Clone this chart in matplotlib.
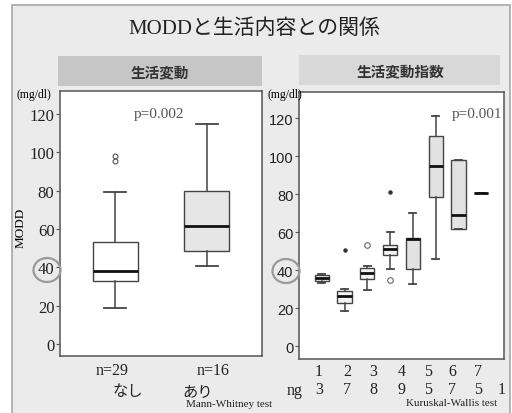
import matplotlib
matplotlib.use("Agg")
import matplotlib.pyplot as plt
from matplotlib.patches import Rectangle, Ellipse
from matplotlib.transforms import IdentityTransform

W, H = 512, 414

# left panel: 生活変動 なし / あり
left_names = ["なし", "あり"]
left_n = [29, 16]
left_whislo = [18.5, 40.5]
left_q1 = [33, 48.5]
left_med = [38, 61.5]
left_q3 = [53, 80]
left_whishi = [79.5, 115]
left_fliers = [[95.5, 98], []]

# right panel: 生活変動指数
right_idx = ["1", "2", "3", "4", "5", "6", "7"]
right_n = [3, 7, 8, 9, 5, 7, 5, 1]
right_whislo = [33, 18.3, 29.5, 40.5, 32.8, 45.8, 61.6, 80.5]
right_q1 = [34.4, 22.8, 35.3, 47.9, 40.5, 78.6, 61.6, 80.5]
right_med = [35.8, 26.3, 38.2, 51, 56.5, 94.6, 68.8, 80.5]
right_q3 = [37.2, 29, 41, 53.2, 56.8, 110.7, 98, 80.5]
right_whishi = [38, 30.2, 42.3, 60.2, 69.8, 121.2, 98, 80.5]
right_circ = [[], [], [53.2], [34.7], [], [], [], []]
right_star = [[], [50.5], [], [80.9], [], [], [], []]

SERIF = ["Liberation Serif", "Noto Sans CJK JP"]
CJK = ["Noto Sans CJK JP", "DejaVu Sans"]


def fx(x):
    return x / W


def fy(y):
    return 1 - y / H


fig = plt.figure(figsize=(W / 100, H / 100), dpi=100)
fig.patch.set_facecolor("white")
fig.patches.append(Rectangle((fx(12), fy(416)), fx(498), 410 / H, transform=fig.transFigure,
                             facecolor="#ebebeb", edgecolor="#a8a8a8", lw=1.2, zorder=-10))
fig.patches.append(Rectangle((fx(58), fy(87)), fx(204), 30 / H, transform=fig.transFigure,
                             facecolor="#c6c6c6", edgecolor="none", zorder=-5))
fig.patches.append(Rectangle((fx(299), fy(86)), fx(201), 30 / H, transform=fig.transFigure,
                             facecolor="#d8d8d8", edgecolor="none", zorder=-5))

fig.text(fx(254), fy(29), "MODDと生活内容との関係", family=SERIF, fontsize=15,
         ha="center", va="center", color="#222222")
fig.text(fx(160), fy(72), "生活変動", family=CJK, fontsize=10.5, weight="bold",
         ha="center", va="center", color="#333333")
fig.text(fx(400), fy(71), "生活変動指数", family=CJK, fontsize=10.5, weight="bold",
         ha="center", va="center", color="#333333")


def make_stats(lo, q1, med, q3, hi, fl):
    return [dict(whislo=a, q1=b, med=c, q3=d, whishi=e, fliers=f)
            for a, b, c, d, e, f in zip(lo, q1, med, q3, hi, fl)]


def style_axes(ax, family, size):
    for s in ax.spines.values():
        s.set_color("#555555")
        s.set_linewidth(1.1)
    ax.set_xticks([])
    ax.set_yticks(range(0, 121, 20))
    ax.tick_params(axis="y", length=3, color="#555555", pad=1, labelsize=size, labelcolor="#222222")
    for t in ax.get_yticklabels():
        t.set_family(family)


# left axes
ax1 = fig.add_axes([fx(60), fy(357), fx(202), 265 / H])
stats1 = make_stats(left_whislo, left_q1, left_med, left_q3, left_whishi, left_fliers)
b1 = ax1.bxp(stats1, positions=[1, 2], widths=0.49, patch_artist=True,
             boxprops=dict(edgecolor="#444444", lw=1),
             whiskerprops=dict(color="#444444", lw=1.1),
             capprops=dict(color="#444444", lw=1.3),
             medianprops=dict(color="#111111", lw=2),
             flierprops=dict(marker="o", ms=3.5, mfc="none", mec="#555555", mew=0.8))
for patch, c in zip(b1["boxes"], ["white", "#e6e6e6"]):
    patch.set_facecolor(c)
ax1.set_xlim(0.4, 2.6)
ax1.set_ylim(-6.3, 132)
style_axes(ax1, "Liberation Serif", 12)
ax1.text(1.48, 120, "p=0.002", family="Liberation Serif", fontsize=11, ha="center",
         va="center", color="#555555")

# right axes
ax2 = fig.add_axes([fx(299), fy(360), fx(205), 267 / H])
pos2 = list(range(1, len(right_n) + 1))
stats2 = make_stats(right_whislo, right_q1, right_med, right_q3, right_whishi, right_circ)
b2 = ax2.bxp(stats2, positions=pos2, widths=0.62, patch_artist=True,
             boxprops=dict(edgecolor="#444444", lw=1),
             whiskerprops=dict(color="#444444", lw=1.1),
             capprops=dict(color="#444444", lw=1.3),
             medianprops=dict(color="#111111", lw=2),
             flierprops=dict(marker="o", ms=4, mfc="none", mec="#666666", mew=0.8))
for i, patch in enumerate(b2["boxes"]):
    patch.set_facecolor("#f4f4f4" if i < 4 else "#e2e2e2")
for p, vals in zip(pos2, right_star):
    ax2.plot([p] * len(vals), vals, "o", ms=2.2, color="#333333")
ax2.set_xlim(0, 9)
ax2.set_ylim(-6.8, 133.7)
style_axes(ax2, "Liberation Sans", 10.5)
ax2.text(0.99, 0.92, "p=0.001", transform=ax2.transAxes, family="Liberation Serif",
         fontsize=11, ha="right", va="center", color="#555555")

# axis annotations
fig.text(fx(34), fy(95), "(mg/dl)", family="Liberation Serif", fontsize=8.5, ha="center", va="center")
fig.text(fx(285), fy(95), "(mg/dl)", family="Liberation Serif", fontsize=8.5, ha="center", va="center")
fig.text(fx(21), fy(228), "MODD", family="Liberation Serif", fontsize=9.5, rotation=90,
         ha="center", va="center")

for xp, n, name, yname in zip([112, 213], left_n, left_names, [128, 198]):
    fig.text(fx(xp), fy(371), "n=%d" % n, family="Liberation Serif", fontsize=11.5,
             ha="center", va="center", color="#222222")
    fig.text(fx(yname), fy(392), name, family=CJK, fontsize=11,
             ha="center", va="center", color="#222222")
fig.text(fx(229), fy(405), "Mann-Whitney test", family="Liberation Serif", fontsize=8,
         ha="center", va="center", color="#222222")

top_x = [319, 347, 373, 402, 428, 452, 478]
bot_x = [319, 347, 373, 402, 428, 452, 478, 502]
for xp, lab in zip(top_x, right_idx):
    fig.text(fx(xp), fy(372), lab, family="Liberation Serif", fontsize=11.5,
             ha="center", va="center", color="#222222")
for xp, n in zip(bot_x, right_n):
    fig.text(fx(xp), fy(390), str(n), family="Liberation Serif", fontsize=11.5,
             ha="center", va="center", color="#222222")
fig.text(fx(295), fy(391), "ng", family="Liberation Serif", fontsize=11.5,
         ha="center", va="center", color="#222222")
fig.text(fx(452), fy(404), "Kuruskal-Wallis test", family="Liberation Serif", fontsize=8,
         ha="center", va="center", color="#222222")

# circles around the 40 tick labels
for cx, cy in [(47, 271), (286, 272)]:
    fig.patches.append(Ellipse((cx, H - cy), 27, 24, transform=IdentityTransform(),
                               facecolor="none", edgecolor="#9a9a9a", lw=1.6, zorder=5))

fig.savefig("out.png", dpi=100)
